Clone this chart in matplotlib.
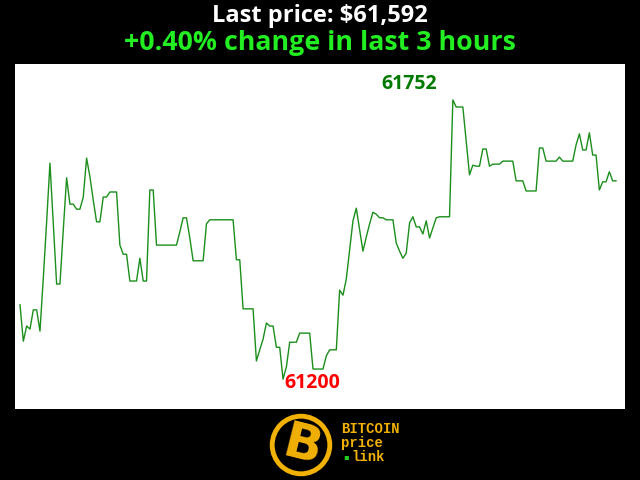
import numpy as np
import matplotlib
matplotlib.use("Agg")
import matplotlib.pyplot as plt
from matplotlib.patches import Circle

plt.rcParams['font.family'] = ['Open Sans', 'DejaVu Sans']

# price per minute over the last 3 hours (USD)
prices = [
    61347, 61275, 61305, 61299, 61337, 61337, 61295, 61400, 61511, 61627,
    61507, 61388, 61388, 61495, 61598, 61546, 61546, 61536, 61536, 61560,
    61637, 61600, 61554, 61511, 61511, 61560, 61560, 61570, 61570, 61570,
    61465, 61447, 61447, 61394, 61394, 61394, 61439, 61394, 61394, 61574,
    61574, 61465, 61465, 61465, 61465, 61465, 61465, 61465, 61491, 61519,
    61519, 61479, 61434, 61434, 61434, 61434, 61507, 61515, 61515, 61515,
    61515, 61515, 61515, 61515, 61515, 61436, 61436, 61339, 61339, 61339,
    61339, 61236, 61258, 61279, 61311, 61305, 61305, 61263, 61263, 61200,
    61224, 61273, 61273, 61273, 61291, 61291, 61291, 61291, 61220, 61220,
    61220, 61220, 61246, 61258, 61258, 61258, 61376, 61366, 61398, 61455,
    61513, 61538, 61495, 61453, 61481, 61507, 61530, 61526, 61519, 61519,
    61515, 61515, 61515, 61469, 61453, 61439, 61449, 61509, 61521, 61501,
    61501, 61487, 61513, 61479, 61499, 61519, 61521, 61521, 61521, 61521,
    61752, 61738, 61738, 61738, 61671, 61604, 61623, 61621, 61621, 61655,
    61655, 61621, 61625, 61625, 61625, 61631, 61631, 61631, 61631, 61592,
    61592, 61592, 61572, 61572, 61572, 61572, 61657, 61657, 61631, 61631,
    61631, 61631, 61639, 61631, 61631, 61631, 61631, 61663, 61685, 61653,
    61653, 61687, 61643, 61643, 61574, 61590, 61590, 61610, 61592, 61592,
]
last_price = prices[-1]
change_pct = (prices[-1] - prices[0]) / prices[0] * 100

x = np.arange(len(prices))
p = np.array(prices)
imax, imin = int(p.argmax()), int(p.argmin())

fig = plt.figure(figsize=(6.4, 4.8), dpi=100, facecolor='black')

ax = fig.add_axes([15/640, 1 - 409/480, 610/640, 345/480])
ax.set_facecolor('white')
ax.plot(x, p, color='#1b8e1b', lw=1)
ax.set_xlim(-1.5, 181.7)
ax.set_ylim(61141, 61823)
ax.set_xticks([])
ax.set_yticks([])
for s in ax.spines.values():
    s.set_visible(False)

ax.annotate(str(p[imax]), xy=(imax, p[imax]), xytext=(-44, 16),
            textcoords='offset pixels', ha='center', va='center',
            color='#007a00', fontsize=14, fontweight='bold')
ax.annotate(str(p[imin]), xy=(imin, p[imin]), xytext=(29, -4),
            textcoords='offset pixels', ha='center', va='center',
            color='#ff0000', fontsize=14, fontweight='bold')

fig.text(0.5, 1 - 16/480, f"Last price: ${last_price:,}", ha='center', va='center',
         color='white', fontsize=17, fontweight='bold')
fig.text(0.5, 1 - 43/480, f"{change_pct:+.2f}% change in last 3 hours", ha='center',
         va='center', color='#22ee22', fontsize=19.3, fontweight='bold')

# logo
gold = '#f2b105'
lax = fig.add_axes([269/640, 1 - 477/480, 64/640, 64/480])
lax.set_xlim(-1, 1)
lax.set_ylim(-1, 1)
lax.set_aspect('equal')
lax.axis('off')
lax.add_patch(Circle((0, 0), 0.9, facecolor='black', edgecolor=gold, lw=3.5))
lax.text(0.04, -0.02, 'B', ha='center', va='center', color=gold, fontsize=36,
         fontweight='bold', rotation=-14, family='DejaVu Sans')

mono = 'Liberation Mono'
fig.text(341/640, 1 - 429/480, 'BITCOIN', ha='left', va='center', color=gold,
         fontsize=10, fontweight='bold', family=mono)
fig.text(341/640, 1 - 443/480, 'price', ha='left', va='center', color=gold,
         fontsize=10, fontweight='bold', family=mono)
fig.text(343/640, 1 - 457/480, '\u25aa', ha='left', va='center', color='#22cc22',
         fontsize=6, family='DejaVu Sans')
fig.text(351/640, 1 - 457/480, 'link', ha='left', va='center', color=gold,
         fontsize=10, fontweight='bold', family=mono)

fig.savefig('out.png', dpi=100, facecolor='black')
